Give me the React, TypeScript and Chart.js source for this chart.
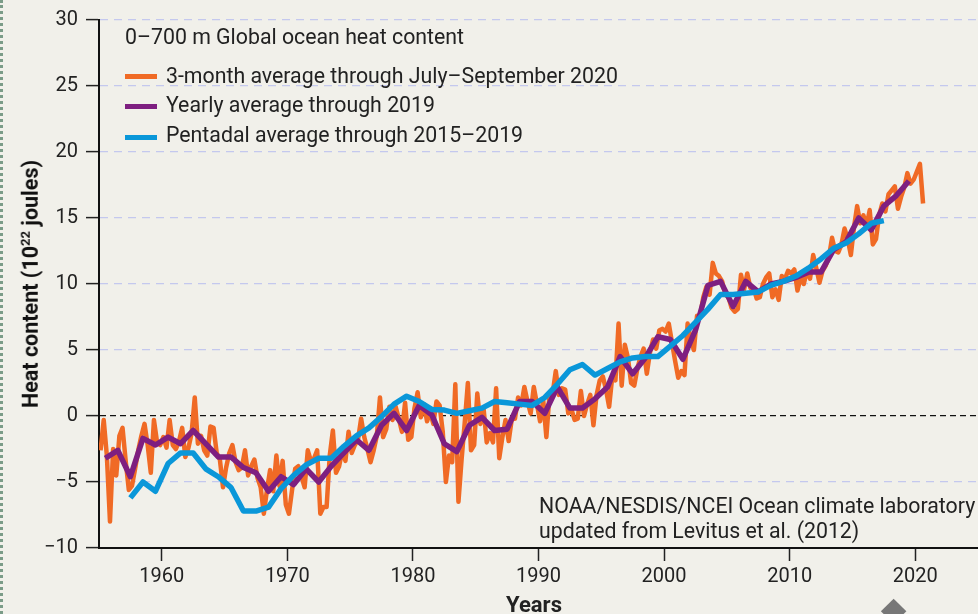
import React, { useEffect, useRef } from "react";
import { Chart, registerables } from "chart.js";

Chart.register(...registerables);

const FONT = "Roboto, 'Noto Sans', sans-serif";

// 3-month averages, one row per year (quarters), 1955 .. 2020 (Q1–Q3)
const threeMonthStartYear = 1955;
const threeMonthByYear: number[][] = [
  [-2.6, -0.3, -3.0, -8.0],
  [-2.5, -4.5, -1.5, -0.9],
  [-3.4, -5.6, -5.3, -4.0],
  [-2.6, -1.5, -0.6, -2.2],
  [-4.3, -0.3, -2.0, -2.2],
  [-1.6, -2.4, -0.3, -2.2],
  [-2.5, -1.9, -0.9, -3.1],
  [-2.4, -1.3, 1.4, -2.1],
  [-1.5, -2.6, -3.0, -0.8],
  [-0.9, -2.8, -3.3, -5.4],
  [-3.9, -2.8, -2.2, -3.5],
  [-4.1, -3.9, -2.6, -4.5],
  [-3.8, -3.3, -4.7, -5.4],
  [-7.4, -5.6, -4.1, -5.7],
  [-3.0, -5.3, -3.4, -6.7],
  [-7.4, -5.6, -4.0, -3.8],
  [-4.6, -5.4, -2.6, -3.4],
  [-3.2, -2.6, -7.4, -6.9],
  [-6.9, -3.0, -1.1, -4.3],
  [-3.8, -2.6, -3.4, -1.2],
  [-2.8, -2.2, -1.8, -0.2],
  [-1.6, -2.5, -3.5, -2.6],
  [-1.5, 1.4, -1.6, -1.0],
  [0.7, -0.3, 0.7, -0.2],
  [-1.2, 1.0, -1.8, -1.6],
  [0.6, 1.8, -0.1, 0.9],
  [-0.4, 0.3, -0.6, 1.1],
  [0.8, -1.2, -5.0, -3.0],
  [-3.5, 2.4, -6.5, -3.3],
  [-0.5, 2.5, -2.6, -2.2],
  [1.7, -0.6, 0.6, -2.0],
  [-1.3, -2.0, 2.1, -3.2],
  [-1.6, -0.3, -1.9, -0.2],
  [-0.2, 1.4, 0.8, 2.2],
  [1.1, 0.2, 2.2, 0.9],
  [-0.4, 1.2, -1.6, 1.6],
  [1.7, 3.4, 1.6, 2.1],
  [2.0, 0.2, 0.5, -0.3],
  [-0.2, 1.9, 0.0, 0.9],
  [1.6, -0.7, 1.6, 2.7],
  [3.0, 2.0, 0.7, 3.0],
  [2.7, 7.0, 2.3, 5.4],
  [4.4, 2.5, 2.3, 3.6],
  [4.5, 5.1, 3.2, 4.8],
  [5.8, 5.1, 6.5, 6.6],
  [6.4, 7.0, 5.6, 4.2],
  [2.9, 3.4, 3.1, 7.0],
  [5.8, 5.0, 7.6, 7.6],
  [9.0, 9.8, 9.2, 11.6],
  [10.8, 10.6, 10.2, 9.2],
  [9.0, 8.2, 7.9, 8.1],
  [10.7, 9.6, 10.8, 9.7],
  [9.7, 8.9, 9.0, 10.0],
  [10.5, 10.8, 9.0, 9.6],
  [8.8, 10.6, 10.4, 11.0],
  [10.8, 11.1, 9.5, 10.5],
  [10.0, 11.0, 10.4, 12.2],
  [11.2, 10.1, 11.0, 11.4],
  [12.0, 13.5, 12.5, 12.4],
  [13.0, 14.2, 13.4, 12.2],
  [14.3, 15.9, 14.6, 15.2],
  [14.4, 15.6, 13.0, 13.4],
  [15.2, 16.1, 15.5, 16.8],
  [17.1, 17.4, 15.7, 16.6],
  [17.3, 18.4, 17.6, 17.9],
  [18.5, 19.1, 16.1],
];

// Yearly averages 1955 .. 2019
const yearlyStartYear = 1955;
const yearlyValues: number[] = [
  -3.2, -2.6, -4.6, -1.7, -2.2, -1.6, -2.1, -1.1, -2.1, -3.1,
  -3.1, -3.9, -4.3, -5.7, -4.6, -5.2, -4.0, -5.0, -3.8, -2.8,
  -1.8, -2.6, -0.7, 0.2, -1.1, 0.8, 0.1, -2.1, -2.7, -0.7,
  -0.1, -1.1, -1.0, 1.1, 1.1, 0.2, 2.2, 0.6, 0.6, 1.3,
  2.2, 4.5, 3.2, 4.4, 6.0, 5.8, 4.3, 6.5, 9.9, 10.2,
  8.3, 10.2, 9.4, 10.0, 10.2, 10.5, 10.9, 10.9, 12.6, 13.2,
  15.0, 14.1, 15.9, 16.7, 17.8,
];

// Pentadal averages, centre years 1957 .. 2017
const pentadalStartYear = 1957;
const pentadalValues: number[] = [
  -6.2, -5.0, -5.7, -3.6, -2.8, -2.8, -4.0, -4.6, -5.4, -7.2,
  -7.2, -6.9, -5.5, -4.5, -3.7, -3.2, -3.2, -2.3, -1.5, -0.9,
  -0.05, 0.9, 1.5, 1.1, 0.5, 0.45, 0.2, 0.4, 0.6, 1.1,
  1.0, 0.9, 0.8, 1.4, 2.4, 3.5, 3.9, 3.1, 3.6, 4.1,
  4.4, 4.5, 4.5, 5.3, 6.1, 7.1, 8.1, 9.2, 9.2, 9.3,
  9.4, 9.9, 10.2, 10.6, 11.2, 11.9, 12.7, 13.1, 13.8, 14.6,
  14.8,
];

const xTickValues = [1960, 1970, 1980, 1990, 2000, 2010, 2020];
const yTickStep = 5;

const legendTitle = "0\u2013700 m Global ocean heat content";
const seriesLabels = [
  "3-month average through July\u2013September 2020",
  "Yearly average through 2019",
  "Pentadal average through 2015\u20132019",
];
const seriesColors = ["#f06a25", "#7e1f80", "#0a97d9"];
const sourceLines = [
  "NOAA/NESDIS/NCEI Ocean climate laboratory",
  "updated from Levitus et al. (2012)",
];

const threeMonthPoints = threeMonthByYear.flatMap((row, i) =>
  row.map((v, q) => ({ x: threeMonthStartYear + i + q * 0.25 + 0.125, y: v }))
);
const yearlyPoints = yearlyValues.map((v, i) => ({ x: yearlyStartYear + i + 0.5, y: v }));
const pentadalPoints = pentadalValues.map((v, i) => ({ x: pentadalStartYear + i + 0.5, y: v }));

const fmt = (v: number) => (v < 0 ? "\u2212" + Math.abs(v) : String(v));

export default function App() {
  const ref = useRef<HTMLCanvasElement | null>(null);

  useEffect(() => {
    if (!ref.current) return;
    const chart = new Chart(ref.current, {
      type: "line",
      data: {
        datasets: [
          {
            label: seriesLabels[2],
            data: pentadalPoints,
            borderColor: seriesColors[2],
            borderWidth: 5.5,
          },
          {
            label: seriesLabels[1],
            data: yearlyPoints,
            borderColor: seriesColors[1],
            borderWidth: 5.5,
          },
          {
            label: seriesLabels[0],
            data: threeMonthPoints,
            borderColor: seriesColors[0],
            borderWidth: 4.5,
          },
        ],
      },
      options: {
        responsive: false,
        animation: false,
        devicePixelRatio: 1,
        parsing: false as any,
        layout: { padding: { top: 20, right: 0, left: 0, bottom: 0 } },
        plugins: {
          legend: { display: false },
          tooltip: { enabled: false },
        },
        elements: {
          point: { radius: 0 },
          line: { tension: 0, borderJoinStyle: "round", borderCapStyle: "butt", fill: false },
        },
        scales: {
          x: {
            type: "linear",
            min: 1955,
            max: 2025,
            afterBuildTicks: (s: any) => {
              s.ticks = xTickValues.map((v) => ({ value: v }));
            },
            afterFit: (s: any) => {
              s.height = 66;
            },
            grid: {
              drawOnChartArea: false,
              drawTicks: true,
              tickLength: 13,
              tickColor: "#222",
              tickWidth: 1.5,
            },
            border: { display: true, color: "#111", width: 2 },
            ticks: {
              padding: 4,
              color: "#222",
              font: { family: FONT, size: 20 },
              maxRotation: 0,
              autoSkip: false,
              callback: (v: any) => String(v),
            },
          },
          y: {
            min: -10,
            max: 30,
            afterFit: (s: any) => {
              s.width = 99;
            },
            grid: {
              color: (c: any) => (c.tick && c.tick.value === 0 ? "#111" : "#c4c8ee"),
              lineWidth: 1.2,
              tickLength: 13,
              tickColor: "#222",
              tickWidth: 1.5,
              tickBorderDash: [],
            },
            border: {
              display: true,
              color: "#111",
              width: 2,
              dash: (c: any) => (c.tick && c.tick.value === 0 ? [6, 4] : [8, 6]),
            },
            ticks: {
              stepSize: yTickStep,
              padding: 8,
              color: "#222",
              font: { family: FONT, size: 20 },
              callback: (v: any) => fmt(Number(v)),
            },
          },
        },
      } as any,
    });
    return () => chart.destroy();
  }, []);

  const FS = 21.3;
  const text: React.CSSProperties = {
    position: "absolute",
    fontFamily: FONT,
    fontSize: FS,
    lineHeight: FS + "px",
    color: "#222",
    whiteSpace: "nowrap",
    margin: 0,
  };

  const rowTops = [64.7, 94.2, 124.2];
  const swatchCenters = [76.5, 106.5, 137];

  return (
    <div
      style={{
        position: "absolute",
        left: 0,
        top: 0,
        width: 978,
        height: 614,
        background: "#f1f0ea",
        overflow: "hidden",
      }}
    >
      <div
        style={{
          position: "absolute",
          left: 0,
          top: 0,
          height: 614,
          width: 0,
          borderLeft: "3px dotted #7b9c88",
        }}
      />
      <canvas ref={ref} width={978} height={614} style={{ position: "absolute", left: 0, top: 0 }} />
      <div style={{ ...text, left: 125, top: 25.7 }}>{legendTitle}</div>
      {seriesLabels.map((lab, i) => (
        <React.Fragment key={lab}>
          <div
            style={{
              position: "absolute",
              left: 125,
              top: swatchCenters[i] - 2.5,
              width: 32,
              height: 5,
              background: seriesColors[i],
            }}
          />
          <div style={{ ...text, left: 166, top: rowTops[i] }}>{lab}</div>
        </React.Fragment>
      ))}
      <div style={{ ...text, left: 539, top: 494.7 }}>{sourceLines[0]}</div>
      <div style={{ ...text, left: 539, top: 519.7 }}>{sourceLines[1]}</div>
      <div style={{ ...text, left: 506, top: 594, fontSize: 22, lineHeight: "22px", fontWeight: 700 }}>Years</div>
      <div
        style={{
          ...text,
          left: 32,
          top: 284,
          fontSize: 21.5,
          lineHeight: "21.5px",
          fontWeight: 700,
          transform: "translate(-50%, -50%) rotate(-90deg)",
          color: "#111",
        }}
      >
        Heat content (10
        <span style={{ fontSize: 13, position: "relative", top: -8 }}>22</span> joules)
      </div>
      <div
        style={{
          position: "absolute",
          left: 900 - 9,
          top: 605,
          width: 18,
          height: 18,
          background: "#777",
          transform: "rotate(45deg)",
          transformOrigin: "50% 0%",
        }}
      />
    </div>
  );
}
